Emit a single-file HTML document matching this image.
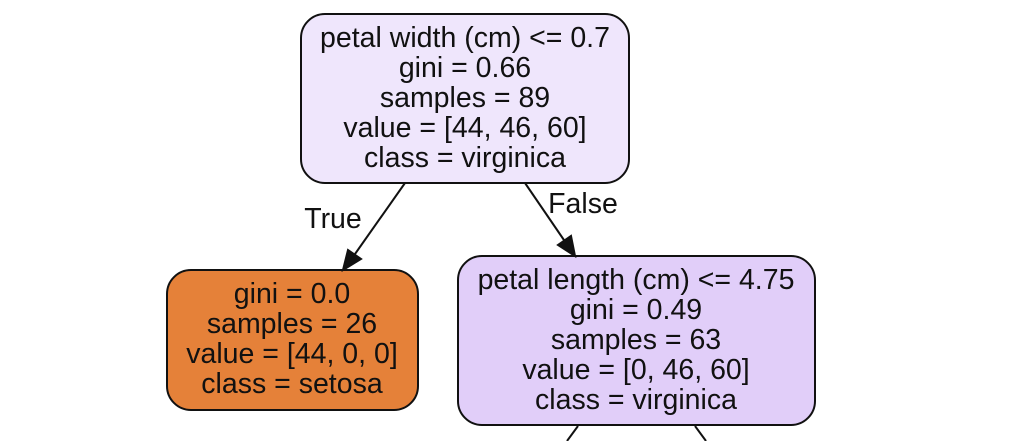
<!DOCTYPE html>
<html><head><style>
body{margin:0;background:#fff;}
svg text{font-family:"Liberation Sans",sans-serif;font-size:28.5px;fill:#111;text-anchor:middle;}
</style></head><body>
<svg width="1024" height="441" viewBox="0 0 1024 441" xmlns="http://www.w3.org/2000/svg">
<rect x="301" y="14" width="328" height="169" rx="24" fill="#efe6fc" stroke="#111" stroke-width="2"/>
<text x="465" y="47">petal width (cm) &lt;= 0.7</text>
<text x="465" y="77">gini = 0.66</text>
<text x="465" y="107">samples = 89</text>
<text x="465" y="137">value = [44, 46, 60]</text>
<text x="465" y="167">class = virginica</text>
<rect x="167" y="270" width="251" height="140" rx="24" fill="#e58139" stroke="#111" stroke-width="2"/>
<text x="292" y="303">gini = 0.0</text>
<text x="292" y="333">samples = 26</text>
<text x="292" y="363">value = [44, 0, 0]</text>
<text x="292" y="393">class = setosa</text>
<rect x="458" y="256" width="357" height="169" rx="24" fill="#e1cef9" stroke="#111" stroke-width="2"/>
<text x="636" y="289">petal length (cm) &lt;= 4.75</text>
<text x="636" y="319">gini = 0.49</text>
<text x="636" y="349">samples = 63</text>
<text x="636" y="379">value = [0, 46, 60]</text>
<text x="636" y="409">class = virginica</text>
<g stroke="#111" stroke-width="2" fill="none">
<line x1="405" y1="183" x2="355" y2="254"/>
<line x1="525" y1="183" x2="566" y2="243"/>
<line x1="578" y1="426" x2="567" y2="441"/>
<line x1="695" y1="426" x2="706" y2="441"/>
</g>
<path d="M343,270 L348,250 L361,259 z" fill="#111" stroke="#111" stroke-width="2"/>
<path d="M575,256 L558,245 L571,236 z" fill="#111" stroke="#111" stroke-width="2"/>
<text x="333" y="228">True</text>
<text x="583" y="213">False</text>
</svg>
</body></html>
